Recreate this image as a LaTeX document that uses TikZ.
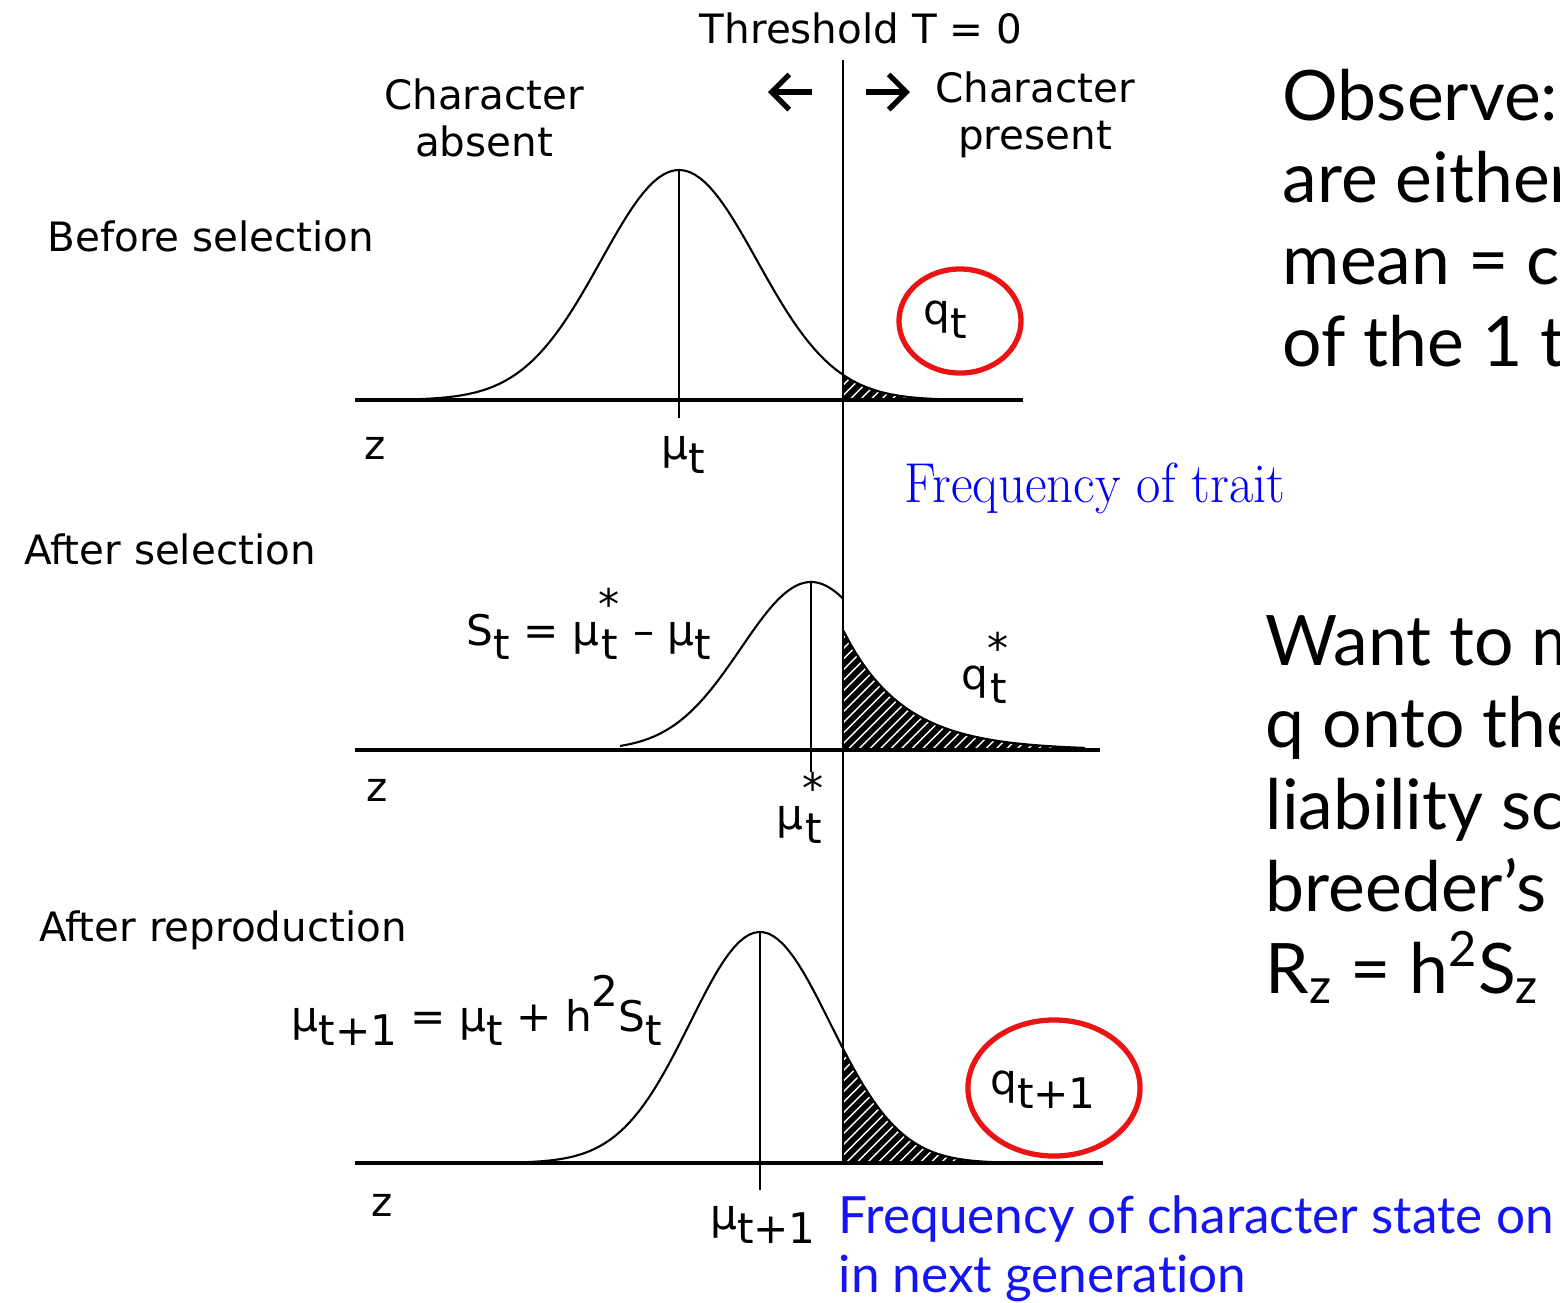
\documentclass[tikz,border=0pt]{standalone}
\usepackage{fontspec}
\usepackage{xcolor}
\usepackage{tikz}
\usetikzlibrary{patterns,arrows.meta}
\newfontfamily\macfont{DejaVu Sans}
\newfontfamily\slidefont[Ligatures=CommonOff]{Lato}
\definecolor{ringred}  {RGB}{235,20,20}
\definecolor{noteblue} {RGB}{20,20,245}
\newcommand{\dn}[1]{\raisebox{-0.6ex}{#1}}
\newcommand{\stdn}[1]{\raisebox{-0.6ex}{\shortstack{*\\#1}}}

\begin{document}
\begin{tikzpicture}[x=0.01cm, y=-0.01cm,
  lbl/.style={font=\macfont\fontsize{11.5}{13.5}\selectfont, inner sep=0pt},
  sym/.style={font=\macfont\fontsize{12}{13}\selectfont, inner sep=0pt},
  axis/.style={line width=1.3pt},
  curve/.style={line width=0.6pt},
  tick/.style={line width=0.6pt},
  pointer/.style={-{Straight Barb[length=5pt, width=10pt]}, line width=1.5pt},
  ring/.style={draw=ringred, line width=1.5pt},
  tail/.style={fill=black},
  hatch/.style={pattern=north east lines, pattern color=white},
  slide/.style={font=\slidefont\fontsize{19.8}{24}\selectfont,
                anchor=base west, inner sep=0pt},
  note/.style={font=\slidefont\fontsize{14.6}{17}\selectfont, text=noteblue,
               anchor=base west, inner sep=0pt},
]

\clip (0,0) rectangle (1560,1302);

% Threshold
\node[lbl] (thr) at (861,28) {Threshold T = 0};
\coordinate (alfrom) at (812,92); \coordinate (alto) at (768,92);
\coordinate (arfrom) at (866,92); \coordinate (arto) at (910,92);
\draw[pointer] (alfrom) -- (alto);
\draw[pointer] (arfrom) -- (arto);
\node[lbl, align=center] (absent)  at (484,118) {Character\\absent};
\node[lbl, align=center] (present) at (1035,115) {Character\\present};

% Row labels
\node[lbl] (before) at (211,236) {Before selection};
\node[lbl] (aftsel) at (170,549) {After selection};
\node[lbl] (aftrep) at (223,930) {After reproduction};

% Before selection
\fill[tail]  (843,400) -- plot[domain=843:1005, samples=40]
  (\x, {400-230*exp(-0.5*((\x-679)/78)^2)}) -- (1005,400) -- cycle;
\fill[hatch] (843,400) -- plot[domain=843:1005, samples=40]
  (\x, {400-230*exp(-0.5*((\x-679)/78)^2)}) -- (1005,400) -- cycle;
\draw[curve] plot[domain=390:1005, samples=120]
  (\x, {400-230*exp(-0.5*((\x-679)/78)^2)});
\draw[axis] (355,400) -- (1023,400);
\coordinate (m1top) at (679,170); \coordinate (m1bot) at (679,418);
\draw[tick] (m1top) -- (m1bot);
\node[lbl] (z1)  at (375,448) {z};
\node[sym] (mu1) at (683,455) {μ\dn{t}};
\node[sym] (q1)  at (945,320) {q\dn{t}};
\draw[ring] (960,321) ellipse [x radius=0.61cm, y radius=0.52cm];

\node[font=\fontsize{16}{18}\selectfont, text=blue, inner sep=0pt]
  (freqtrait) at (1095,488) {\scalebox{0.94}[1]{Frequency of trait}};

% After selection
\fill[tail]  (843,750) -- plot[domain=843:1085, samples=40]
  (\x, {750-120*exp(-(\x-843)/60)}) -- (1085,750) -- cycle;
\fill[hatch] (843,750) -- plot[domain=843:1085, samples=40]
  (\x, {750-120*exp(-(\x-843)/60)}) -- (1085,750) -- cycle;
\draw[curve] plot[domain=843:1085, samples=40]
  (\x, {750-120*exp(-(\x-843)/60)});
\draw[curve] plot[domain=620:843, samples=80]
  (\x, {750-168*exp(-0.5*((\x-811)/70)^2)});
\draw[axis] (355,750) -- (1100,750);
\coordinate (m2top) at (811,582); \coordinate (m2bot) at (811,772);
\draw[tick] (m2top) -- (m2bot);
\node[lbl] (z2)  at (377,790) {z};
\node[sym] (mu2) at (800,808) {μ\stdn{t}};
\node[sym] (q2)  at (985,668) {q\stdn{t}};
\node[sym] (sel) at (589,624) {S\dn{t} = μ\stdn{t} – μ\dn{t}};

% After reproduction
\fill[tail]  (843,1163) -- plot[domain=843:1062, samples=40]
  (\x, {1163-231*exp(-0.5*((\x-760)/70)^2)}) -- (1062,1163) -- cycle;
\fill[hatch] (843,1163) -- plot[domain=843:1062, samples=40]
  (\x, {1163-231*exp(-0.5*((\x-760)/70)^2)}) -- (1062,1163) -- cycle;
\draw[curve] plot[domain=470:1062, samples=120]
  (\x, {1163-231*exp(-0.5*((\x-760)/70)^2)});
\draw[axis] (355,1163) -- (1103,1163);
\coordinate (m3top) at (760,932); \coordinate (m3bot) at (760,1190);
\draw[tick] (m3top) -- (m3bot);
\node[lbl] (z3)  at (382,1205) {z};
\node[sym] (mu3) at (763,1225) {μ\dn{t+1}};
\node[sym] (q3)  at (1043,1090) {q\dn{t+1}};
\node[sym] (resp) at (477,1010) {μ\dn{t+1} = μ\dn{t} + h\raisebox{1.1ex}{2}S\dn{t}};
\draw[ring] (1054,1088) ellipse [x radius=0.86cm, y radius=0.68cm];

% Threshold line
\coordinate (ttop) at (843,60); \coordinate (tbot) at (843,1163);
\draw[tick] (ttop) -- (tbot);

% Notes
\node[note] (next1) at (838,1233) {Frequency of character state on};
\node[note] (next2) at (838,1292) {in next generation};

\foreach \txt [count=\i] in {Observe:, are either, mean = c, of the 1 t}
  \node[slide] (obs\i) at (1282, {120+82*(\i-1)}) {\txt};
\foreach \txt [count=\i] in {Want to m, q onto the, liability sc, breeder’s,
    R\textsubscript{z} = h\textsuperscript{2}S\textsubscript{z} h}
  \node[slide] (want\i) at (1265, {665+82*(\i-1)}) {\txt};

\end{tikzpicture}
\end{document}
